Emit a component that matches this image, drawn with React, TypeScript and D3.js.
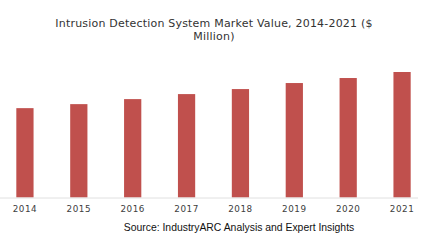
import React from "react";
import * as d3 from "d3";

const years = ["2014", "2015", "2016", "2017", "2018", "2019", "2020", "2021"];
const values = [89, 93, 98, 103, 108, 114, 119, 125];
const titleLines = ["Intrusion Detection System Market Value, 2014-2021 ($", "Million)"];
const sourceText = "Source: IndustryARC Analysis and Expert Insights";

export default function App() {
  const W = 431, H = 240;
  const baseY = 197.5;
  const x = d3.scaleBand<string>().domain(years).range([-2, 429]).paddingInner(0.68).paddingOuter(0.34);
  const y = d3.scaleLinear().domain([0, 125]).range([baseY, 72]);
  return (
    <svg width={W} height={H} style={{ position: "absolute", left: 0, top: 0, background: "#fff" }}>
      <text x={214} y={27} textAnchor="middle" fontFamily="DejaVu Sans" fontSize={11} letterSpacing={0.2} fill="#333">{titleLines[0]}</text>
      <text x={214} y={39.5} textAnchor="middle" fontFamily="DejaVu Sans" fontSize={11} letterSpacing={0.2} fill="#333">{titleLines[1]}</text>
      {years.map((yr, i) => (
        <rect key={yr} x={x(yr)} y={y(values[i])} width={x.bandwidth()} height={baseY - y(values[i])} fill="#c0504d" />
      ))}
      <line x1={0} x2={418} y1={baseY + 0.5} y2={baseY + 0.5} stroke="#e0e0e0" strokeWidth={1} />
      {years.map((yr) => (
        <text key={yr} x={(x(yr) as number) + x.bandwidth() / 2} y={212} textAnchor="middle" fontFamily="DejaVu Sans" fontSize={8.8} fill="#404040" letterSpacing={0.5}>{yr}</text>
      ))}
      <text x={239} y={230.5} textAnchor="middle" fontFamily="Liberation Sans" fontSize={10.4} fill="#111">{sourceText}</text>
    </svg>
  );
}
